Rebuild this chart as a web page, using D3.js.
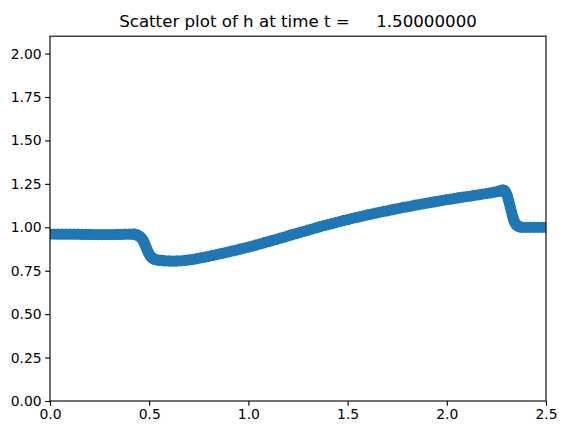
<!DOCTYPE html>
<html><head><meta charset="utf-8">
<script src="https://cdn.jsdelivr.net/npm/d3@7/dist/d3.min.js"></script>
<style>body{margin:0;background:#fff}svg{display:block}text{font-family:"DejaVu Sans",sans-serif}</style>
</head><body><svg id="c" width="567" height="435"></svg>
<script>
const titleText = "Scatter plot of h at time t =     1.50000000";
const xTicks = [0.0, 0.5, 1.0, 1.5, 2.0, 2.5];
const yTicks = [0.00, 0.25, 0.50, 0.75, 1.00, 1.25, 1.50, 1.75, 2.00];
const xs = [0.00,0.02,0.04,0.06,0.08,0.10,0.12,0.14,0.16,0.18,0.20,0.22,0.24,0.26,0.28,0.30,0.32,0.34,0.36,0.38,0.40,
0.420,0.425,0.430,0.435,0.440,0.445,0.450,0.455,0.460,0.465,0.470,0.475,0.480,0.485,0.490,0.495,0.500,0.505,0.510,0.515,0.520,0.525,0.530,
0.54,0.55,0.56,0.57,0.58,
0.60,0.62,0.64,0.66,0.68,0.70,0.72,0.74,0.76,0.78,0.80,0.82,0.84,0.86,0.88,0.90,0.92,0.94,0.96,0.98,
1.00,1.02,1.04,1.06,1.08,1.10,1.12,1.14,1.16,1.18,1.20,1.22,1.24,1.26,1.28,1.30,1.32,1.34,1.36,1.38,
1.40,1.42,1.44,1.46,1.48,1.50,1.52,1.54,1.56,1.58,1.60,1.62,1.64,1.66,1.68,1.70,1.72,1.74,1.76,1.78,
1.80,1.82,1.84,1.86,1.88,1.90,1.92,1.94,1.96,1.98,2.00,2.02,2.04,2.06,2.08,2.10,2.12,2.14,2.16,2.18,
2.20,2.22,2.24,
2.260,2.265,2.270,2.275,2.280,2.285,2.290,2.295,2.300,2.305,2.310,2.315,2.320,2.325,2.330,2.335,2.340,2.345,2.350,2.355,2.360,2.365,2.370,2.380,
2.40,2.42,2.44,2.46,2.48,2.50];
const hs = [0.961,0.961,0.960,0.960,0.960,0.960,0.960,0.960,0.959,0.959,0.959,0.958,0.958,0.958,0.958,0.958,0.958,0.959,0.959,0.960,0.960,
0.960,0.960,0.959,0.957,0.955,0.952,0.948,0.944,0.938,0.931,0.922,0.910,0.897,0.883,0.870,0.857,0.845,0.836,0.829,0.824,0.820,0.817,0.815,
0.812,0.810,0.809,0.808,0.807,
0.806,0.805,0.806,0.807,0.809,0.812,0.815,0.819,0.824,0.828,0.833,0.838,0.843,0.848,0.853,0.858,0.864,0.869,0.875,0.880,
0.886,0.892,0.898,0.904,0.911,0.917,0.924,0.930,0.937,0.943,0.950,0.957,0.963,0.970,0.977,0.983,0.990,0.996,1.003,1.009,
1.015,1.021,1.027,1.033,1.039,1.044,1.050,1.055,1.060,1.066,1.071,1.076,1.081,1.086,1.091,1.095,1.100,1.105,1.109,1.114,
1.118,1.122,1.127,1.131,1.135,1.139,1.143,1.147,1.151,1.155,1.159,1.162,1.166,1.170,1.173,1.177,1.180,1.184,1.187,1.191,
1.194,1.198,1.202,
1.207,1.208,1.210,1.212,1.214,1.214,1.212,1.205,1.195,1.180,1.160,1.138,1.115,1.092,1.070,1.050,1.035,1.023,1.015,1.010,1.006,1.004,1.002,1.000,
1.000,1.000,1.000,1.000,1.000,1.000];

const svg = d3.select("#c");
const L = 50, T = 36.2, W = 496, H = 364.8;
const x = d3.scaleLinear().domain([0, 2.5]).range([L, L + W]);
const y = d3.scaleLinear().domain([0, 2.1]).range([T + H, T]);

svg.append("defs").append("clipPath").attr("id", "clip")
  .append("rect").attr("x", L).attr("y", T).attr("width", W).attr("height", H);

svg.append("g").attr("clip-path", "url(#clip)")
  .selectAll("circle").data(xs.map((v, i) => [v, hs[i]])).join("circle")
  .attr("cx", d => x(d[0])).attr("cy", d => y(d[1])).attr("r", 4.6)
  .attr("fill", "#1f77b4").attr("stroke", "#1f77b4").attr("stroke-width", 2.08);

const fmtX = d3.format(".1f"), fmtY = d3.format(".2f");
const xa = svg.append("g").attr("transform", `translate(0,${T + H})`)
  .call(d3.axisBottom(x).tickValues(xTicks).tickFormat(fmtX).tickSize(4.86).tickPadding(3.5));
const ya = svg.append("g").attr("transform", `translate(${L},0)`)
  .call(d3.axisLeft(y).tickValues(yTicks).tickFormat(fmtY).tickSize(4.86).tickPadding(3.5));
[xa, ya].forEach(a => {
  a.select(".domain").remove();
  a.selectAll("line").attr("stroke", "#000").attr("stroke-width", 1.11);
  a.selectAll("text").attr("fill", "#000").style("font-size", "13.9px").style("font-family", '"DejaVu Sans", sans-serif');
});

svg.append("rect").attr("x", L).attr("y", T).attr("width", W).attr("height", H)
  .attr("fill", "none").attr("stroke", "#000").attr("stroke-width", 1.11);

svg.append("text").attr("x", L + W / 2).attr("y", T - 8.8).attr("text-anchor", "middle")
  .style("font-size", "16.67px").style("white-space", "pre").attr("fill", "#000").text(titleText);
</script></body></html>
